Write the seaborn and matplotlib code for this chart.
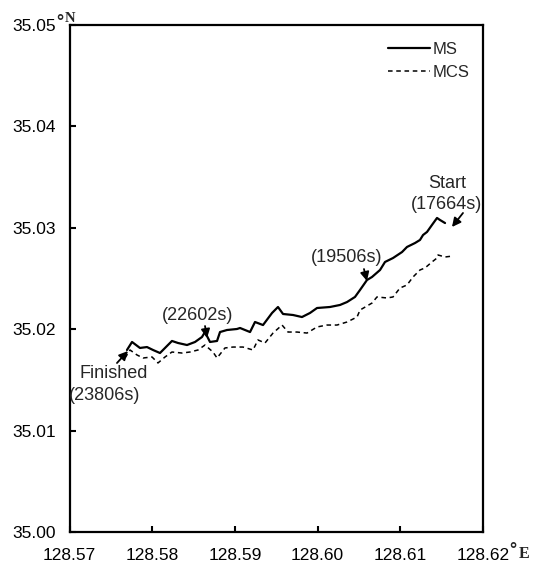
import matplotlib
matplotlib.use("Agg")
import matplotlib.pyplot as plt
import seaborn as sns
import pandas as pd
from matplotlib.lines import Line2D

# ---- data ----
ms_lon = [128.57695, 128.57756, 128.57852, 128.57937, 128.58010, 128.58094, 128.58155,
          128.58239, 128.58312, 128.58421, 128.58518, 128.58602, 128.58638, 128.58699,
          128.58784, 128.58820, 128.58904, 128.59025, 128.59062, 128.59183, 128.59243,
          128.59340, 128.59449, 128.59521, 128.59582, 128.59703, 128.59811, 128.59908,
          128.59993, 128.60150, 128.60271, 128.60356, 128.60452, 128.60513, 128.60597,
          128.60658, 128.60755, 128.60815, 128.60912, 128.61021, 128.61081, 128.61178,
          128.61238, 128.61275, 128.61323, 128.61383, 128.61444, 128.61480, 128.61541]
ms_lat = [35.01795, 35.01874, 35.01815, 35.01824, 35.01795, 35.01765, 35.01815,
          35.01884, 35.01864, 35.01844, 35.01874, 35.01923, 35.01972, 35.01874,
          35.01884, 35.01972, 35.01992, 35.02002, 35.02012, 35.01972, 35.02071,
          35.02041, 35.02160, 35.02219, 35.02150, 35.02140, 35.02120, 35.02160,
          35.02209, 35.02219, 35.02239, 35.02268, 35.02318, 35.02387, 35.02485,
          35.02515, 35.02584, 35.02663, 35.02702, 35.02761, 35.02811, 35.02850,
          35.02880, 35.02929, 35.02959, 35.03028, 35.03097, 35.03077, 35.03047]

mcs_lon = [128.57671, 128.57732, 128.57816, 128.57889, 128.57998, 128.58070, 128.58155,
           128.58239, 128.58360, 128.58457, 128.58554, 128.58638, 128.58735, 128.58784,
           128.58880, 128.58977, 128.59098, 128.59219, 128.59279, 128.59364, 128.59461,
           128.59570, 128.59642, 128.59751, 128.59872, 128.59993, 128.60114, 128.60235,
           128.60356, 128.60477, 128.60513, 128.60658, 128.60718, 128.60839, 128.60912,
           128.60996, 128.61081, 128.61154, 128.61238, 128.61299, 128.61383, 128.61444,
           128.61456, 128.61541, 128.61637]
mcs_lat = [35.01716, 35.01795, 35.01746, 35.01716, 35.01726, 35.01667, 35.01726,
           35.01775, 35.01765, 35.01775, 35.01795, 35.01844, 35.01775, 35.01716,
           35.01815, 35.01824, 35.01824, 35.01795, 35.01894, 35.01864, 35.01962,
           35.02041, 35.01972, 35.01972, 35.01962, 35.02022, 35.02041, 35.02041,
           35.02071, 35.02120, 35.02189, 35.02258, 35.02318, 35.02308, 35.02318,
           35.02406, 35.02436, 35.02515, 35.02584, 35.02604, 35.02663, 35.02702,
           35.02732, 35.02712, 35.02722]

x_ticks = [128.57, 128.58, 128.59, 128.60, 128.61, 128.62]
x_ticklabels = ["128.57", "128.58", "128.59", "128.60", "128.61", "128.62"]
y_ticks = [35.00, 35.01, 35.02, 35.03, 35.04, 35.05]
y_ticklabels = ["35.00", "35.01", "35.02", "35.03", "35.04", "35.05"]

# annotation labels (one list of text lines each) and the track points they mark
ann_labels = [["Start", "(17664s)"], ["(19506s)"], ["(22602s)"], ["Finished", "(23806s)"]]
ann_lon = [128.61625, 128.60597, 128.58663, 128.57707]
ann_lat = [35.03008, 35.02475, 35.01913, 35.01785]

# ---- style ----
sns.set_style("white")
plt.rcParams["font.family"] = ["Liberation Sans", "DejaVu Sans"]

W, H = 537, 564
fig = plt.figure(figsize=(W / 100, H / 100), dpi=100)
ax = fig.add_axes([69.5 / W, (H - 532) / H, 413.5 / W, 507 / H])

df_ms = pd.DataFrame({"lon": ms_lon, "lat": ms_lat})
df_mcs = pd.DataFrame({"lon": mcs_lon, "lat": mcs_lat})

sns.lineplot(data=df_ms, x="lon", y="lat", sort=False, estimator=None,
             color="black", lw=1.6, ax=ax)
sns.lineplot(data=df_mcs, x="lon", y="lat", sort=False, estimator=None,
             color="black", lw=1.1, ax=ax)
ax.lines[1].set_linestyle((0, (3, 2.4)))

ax.set_xlim(128.57, 128.62)
ax.set_ylim(35.00, 35.05)
ax.set_xticks(x_ticks)
ax.set_xticklabels(x_ticklabels)
ax.set_yticks(y_ticks)
ax.set_yticklabels(y_ticklabels)
ax.set_xlabel("")
ax.set_ylabel("")
ax.tick_params(axis="both", direction="in", length=4.5, width=1.5,
               labelsize=12.5, colors="black", bottom=True, left=True)
ax.tick_params(axis="y", pad=10)
ax.tick_params(axis="x", pad=11.5)
for s in ax.spines.values():
    s.set_visible(True)
    s.set_color("black")
    s.set_linewidth(1.6)

# legend
handles = [Line2D([], [], color="black", lw=1.6, ls="-"),
           Line2D([], [], color="black", lw=1.1, ls=(0, (3, 2.4)))]
ax.legend(handles, ["MS", "MCS"], loc="upper left",
          bbox_to_anchor=(388 / W, 1 - 41.5 / H), bbox_transform=fig.transFigure,
          frameon=False, fontsize=12, handlelength=2.5, handletextpad=0.2,
          labelspacing=0.5, borderpad=0, borderaxespad=0)

# degree / direction markers
fig.text(56 / W, 1 - 23 / H, "°", fontsize=13, fontweight="bold", ha="left", va="center")
fig.text(65 / W, 1 - 18 / H, "N", fontsize=10.5, fontweight="bold",
         family="Liberation Serif", ha="left", va="center")
fig.text(509 / W, 1 - 550 / H, "°", fontsize=13, fontweight="bold", ha="left", va="center")
fig.text(519 / W, 1 - 554 / H, "E", fontsize=11.5, fontweight="bold",
         family="Liberation Serif", ha="left", va="center")

# annotations: arrows to the track, text lines placed by pixel centre
text_pos = [[(447, 183), (447, 205)], [(347, 258)], [(198, 316)],
            [(114, 374), (105, 395)]]
tail_off = [(11, 14), (-3, 12), (-2, 12), (-11, -12)]
for lines, lo, la, poss, off in zip(ann_labels, ann_lon, ann_lat, text_pos, tail_off):
    ax.annotate("", xy=(lo, la), xytext=off, textcoords="offset pixels",
                arrowprops=dict(arrowstyle="-|>", color="black", lw=1.3,
                                mutation_scale=13, shrinkA=0, shrinkB=0))
    for line, (tx, ty) in zip(lines, poss):
        fig.text(tx / W, 1 - ty / H, line, fontsize=13, ha="center", va="center")

fig.savefig("out.png", dpi=100)
